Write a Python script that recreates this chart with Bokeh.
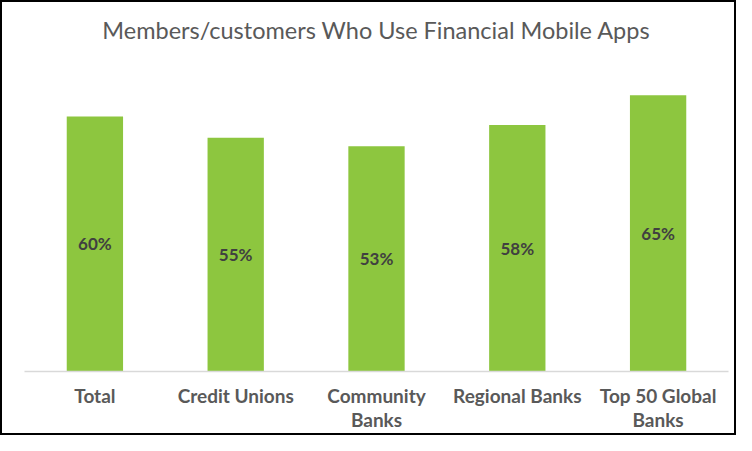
from bokeh.plotting import figure
from bokeh.layouts import column
from bokeh.models import ColumnDataSource, Range1d, Label
from bokeh.core.properties import value
from bokeh.embed import file_html
from bokeh.resources import INLINE

title = "Members/customers Who Use Financial Mobile Apps"
categories = ["Total", "Credit Unions", "Community\nBanks", "Regional Banks", "Top 50 Global\nBanks"]
values = [60, 55, 53, 58, 65]
value_labels = [f"{v}%" for v in values]

src = ColumnDataSource(dict(cat=categories, val=values, mid=[v / 2 for v in values], lab=value_labels))

# frame spans the full height above the axis; the y range top leaves room for the title
fig = figure(width=732, height=431, x_range=categories, y_range=Range1d(0, 86.8),
             output_backend="svg", toolbar_location=None,
             min_border_left=22, min_border_right=6, min_border_top=0, min_border_bottom=62)
fig.x_range.range_padding = 0
fig.outline_line_color = None
fig.xgrid.visible = False
fig.ygrid.visible = False
fig.yaxis.visible = False
fig.background_fill_color = "white"
fig.border_fill_color = "white"

fig.vbar(x="cat", top="val", width=0.4, source=src, color="#8DC63F", line_color=None)
fig.text(x="cat", y="mid", text="lab", source=src, text_align="center", text_baseline="middle",
         text_font=value("Lato"), text_font_style="bold", text_font_size="17px", text_color="#404040")

fig.add_layout(Label(x=2.5, y=80.4, text=title, text_align="center", text_baseline="alphabetic",
                     text_font="Lato", text_font_size="23.5px", text_color="#595959"))

ax = fig.xaxis[0]
ax.axis_line_color = "#D9D9D9"
ax.axis_line_width = 1.5
ax.major_tick_line_color = None
ax.minor_tick_line_color = None
ax.major_tick_out = 0
ax.major_tick_in = 0
ax.major_label_standoff = 12
ax.major_label_text_font = "Lato"
ax.major_label_text_font_style = "bold"
ax.major_label_text_font_size = "19px"
ax.major_label_text_color = "#595959"
ax.major_label_text_line_height = 1.05

p = column(fig, styles={"border": "2px solid black"})

open("out.html", "w").write(file_html(p, INLINE))
